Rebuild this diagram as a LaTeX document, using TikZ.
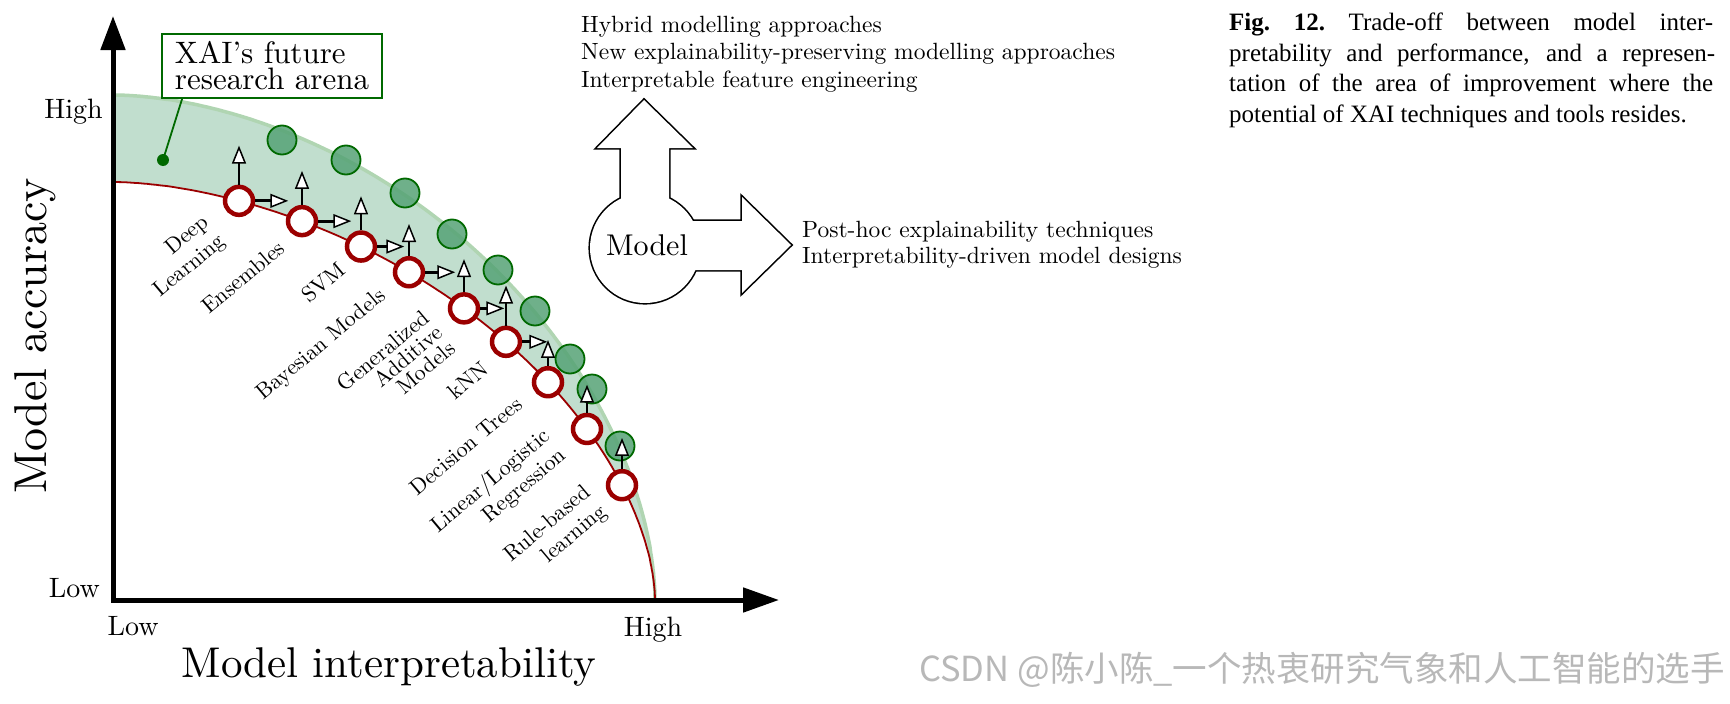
\documentclass[tikz,border=0pt]{standalone}
\usepackage{fontspec}
\setmainfont{lmroman10-regular.otf}[BoldFont=lmroman10-bold.otf, ItalicFont=lmroman10-italic.otf]
\newfontfamily\capfont{Liberation Serif}
\newfontfamily\cjkfont{Noto Sans CJK SC}
\usetikzlibrary{arrows.meta, calc}
\definecolor{bandfill}{RGB}{193,222,206}
\definecolor{bandedge}{RGB}{176,213,178}
\definecolor{gfill}{RGB}{86,163,118}
\definecolor{gdark}{RGB}{0,105,0}
\definecolor{rdark}{RGB}{155,0,0}
\newcommand\fs[2]{\fontsize{#1}{#2}\selectfont}
\newcommand\ry[1]{600-418*pow(1-pow((#1-113)/542,1.75),0.5714)}
\tikzset{
  redc/.style={circle, draw=rdark, line width=4.5pt, fill=white, minimum size=28pt, inner sep=0pt},
  grc/.style={circle, draw=gdark, line width=1.8pt, fill=gfill, fill opacity=0.85, minimum size=29pt, inner sep=0pt},
  tipa/.style={black, line width=2.8pt, -{Triangle[length=18pt, width=14pt, fill=white, line width=1.5pt]}},
  lbl/.style={rotate=40, align=right, font=\fs{22}{25}, inner sep=0pt},
  axlbl/.style={font=\fs{28}{33}, inner sep=0pt},
  tt/.style={font=\fs{23.5}{27}, inner sep=0pt, anchor=base west},
  captxt/.style={font=\capfont\fs{25}{30}, inner sep=0pt, anchor=base west},
  shapeline/.style={line width=3.2pt, line join=miter},
}
\newcommand\upa[2]{\coordinate (#1u) at ([yshift=#2pt]#1.north); \draw[tipa] (#1.north) -- (#1u);}
\newcommand\rta[2]{\coordinate (#1r) at ([xshift=#2pt]#1.east); \draw[tipa] (#1.east) -- (#1r);}
\newcommand\mcirc{(645,248) circle[radius=55pt]}
\newcommand\mup{(644,100) -- (693,148) -- (669,148) -- (669,250) -- (621,250) -- (621,148) -- (597,148) -- cycle}
\newcommand\mright{(645,221) -- (742,221) -- (742,197) -- (791,245) -- (742,293) -- (742,270) -- (645,270) -- cycle}
\begin{document}
\begin{tikzpicture}[x=1pt,y=-1pt]
\useasboundingbox (0,0) rectangle (1730,704);
\fill[white] (0,0) rectangle (1730,704);

% band
\fill[bandfill] plot[domain=0.05:89.95, samples=160] ({113+542*pow(sin(\x),1.1111)}, {600-505*pow(cos(\x),1.1111)})
  -- plot[domain=0.05:89.95, samples=160] ({113+542*pow(cos(\x),1.1429)}, {600-418*pow(sin(\x),1.1429)}) -- cycle;
\draw[bandedge, line width=3.5pt] plot[domain=0.05:89.95, samples=160] ({113+542*pow(sin(\x),1.1111)}, {600-505*pow(cos(\x),1.1111)});
\draw[rdark, line width=1.8pt] plot[domain=0.05:89.95, samples=160] ({113+542*pow(cos(\x),1.1429)}, {600-418*pow(sin(\x),1.1429)});

% green circles
\node[grc] (g1) at (282,140) {};
\node[grc] (g2) at (346,160) {};
\node[grc] (g3) at (405,193) {};
\node[grc] (g4) at (452,234) {};
\node[grc] (g5) at (498,270) {};
\node[grc] (g6) at (535,311) {};
\node[grc] (g7) at (570,359) {};
\node[grc] (g8) at (592,389) {};
\node[grc] (g9) at (620,446) {};

% axes
\coordinate (O) at (113,600);
\coordinate (ytip) at (113,16);
\coordinate (xtip) at (779,600);
\draw[line width=5pt, line join=miter, {Triangle[length=34pt,width=24pt]}-{Triangle[length=36pt,width=24pt]}] (ytip) -- (O) -- (xtip);

% red circles
\node[redc] (r1) at (239,{\ry{239}}) {};
\node[redc] (r2) at (302,{\ry{302}}) {};
\node[redc] (r3) at (361,{\ry{361}}) {};
\node[redc] (r4) at (409,{\ry{409}}) {};
\node[redc] (r5) at (464,{\ry{464}}) {};
\node[redc] (r6) at (506,{\ry{506}}) {};
\node[redc] (r7) at (548,{\ry{548}}) {};
\node[redc] (r8) at (587,{\ry{587}}) {};
\node[redc] (r9) at (622,{\ry{622}}) {};

\upa{r1}{39} \upa{r2}{34} \upa{r3}{34} \upa{r4}{32} \upa{r5}{33}
\upa{r6}{40} \upa{r7}{26} \upa{r8}{28} \upa{r9}{31}
\rta{r1}{33} \rta{r2}{33} \rta{r3}{27} \rta{r4}{30} \rta{r5}{24} \rta{r6}{25}

% labels
\node[lbl] (l1) at (182,257) {Deep\\Learning};
\node[lbl] (l2) at (243,277) {Ensembles};
\node[lbl] (l3) at (323,282) {SVM};
\node[lbl] (l4) at (322,345) {Bayesian Models};
\node[lbl, font=\fs{22}{20}] (l5) at (396,366) {Generalized\\Additive\\Models};
\node[lbl] (l6) at (468,380) {kNN};
\node[lbl] (l7) at (466,446) {Decision Trees};
\node[lbl] (l8) at (499,491) {Linear/Logistic\\Regression};
\node[lbl] (l9) at (556,534) {Rule-based\\learning};

% XAI box
\node[draw=gdark, line width=1.8pt, fill=white, minimum width=220pt, minimum height=64pt, inner sep=0pt, align=left, font=\fs{31}{26}] (xai) at (272,66) {XAI’s future\\research arena};
\node[circle, fill=gdark, inner sep=0pt, minimum size=12pt] (dot) at (163,160) {};
\coordinate (xaiend) at ([xshift=21pt]xai.south west);
\draw[gdark, line width=1.8pt] (dot.center) -- (xaiend);

% axis labels
\node[axlbl, anchor=base east] (yhigh) at (103,118) {High};
\node[axlbl, anchor=base east] (ylow) at (100,597) {Low};
\node[axlbl, anchor=base] (xlow) at (133,635) {Low};
\node[axlbl, anchor=base] (xhigh) at (653,636) {High};
\node[rotate=90, font=\fs{46}{50}, inner sep=0pt] (ylab) at (35,336) {Model accuracy};
\node[font=\fs{43}{48}, inner sep=0pt, anchor=base] (xlab) at (389,677) {Model interpretability};

% Model shape (union outline)
\draw[shapeline] \mcirc;
\draw[shapeline] \mup;
\draw[shapeline] \mright;
\fill[white] \mcirc;
\fill[white] \mup;
\fill[white] \mright;
\node[font=\fs{30}{34}, inner sep=0pt, anchor=base] (modeltxt) at (647,255) {Model};

% texts
\node[tt] (t1) at (581,32) {Hybrid modelling approaches};
\node[tt] (t2) at (581,59.5) {New explainability-preserving modelling approaches};
\node[tt] (t3) at (581,87) {Interpretable feature engineering};
\node[tt] (p1) at (802,237) {Post-hoc explainability techniques};
\node[tt] (p2) at (802,263) {Interpretability-driven model designs};

% caption
\node[captxt] (c1) at (1229,30) {\makebox[484pt][s]{\textbf{Fig.\ 12.}\ Trade-off between model inter-}};
\node[captxt] (c2) at (1229,61) {\makebox[486pt][s]{pretability and performance, and a represen-}};
\node[captxt] (c3) at (1229,91.5) {\makebox[484pt][s]{tation of the area of improvement where the}};
\node[captxt] (c4) at (1229,122) {potential of XAI techniques and tools resides.};

% watermark
\node[anchor=base east, font=\cjkfont\fs{34.5}{38}, text=black!28, inner sep=0pt] (wm) at (1725,681) {CSDN @陈小陈\_一个热衷研究气象和人工智能的选手};
\end{tikzpicture}
\end{document}
